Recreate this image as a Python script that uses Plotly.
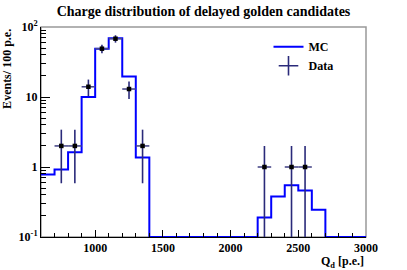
import numpy as np
import plotly.graph_objects as go

# MC histogram: bin lower edges (100 p.e. bins) and contents
mc_edges = list(range(600, 3000, 100))
mc_values = [0.78, 0.92, 1.62, 10.0, 49.0, 69.0, 19.7, 1.37,
             0, 0, 0, 0, 0, 0, 0, 0,
             0.19, 0.38, 0.55, 0.46, 0.245,
             0, 0, 0]

# Data points (bin centres) and counts
data_x = [750, 850, 950, 1050, 1150, 1250, 1350, 2250, 2450, 2550]
data_y = [2, 2, 14, 49, 68, 13, 2, 1, 1, 1]

x_ticks = [1000, 1500, 2000, 2500, 3000]
y_tickvals = [0.1, 1, 10, 100]
y_ticktext = ["10<sup>-1</sup>", "1", "10", "10<sup>2</sup>"]

FONT = "Liberation Serif"
floor = 0.1

mc_x = mc_edges + [3000]
mc_y = [max(v, floor) for v in mc_values] + [max(mc_values[-1], floor)]

err = np.sqrt(np.array(data_y, dtype=float))

fig = go.Figure()
fig.add_trace(go.Scatter(
    x=mc_x, y=mc_y, mode="lines", line=dict(shape="hv", color="#0000ff", width=2),
    name="<b>MC</b>", showlegend=True))
fig.add_trace(go.Scatter(
    x=data_x, y=data_y, mode="markers",
    marker=dict(color="black", size=4.5, symbol="square"),
    error_y=dict(type="data", array=err, arrayminus=err, color="#2a2a7a", thickness=1.6, width=0),
    error_x=dict(type="constant", value=50, color="#4a4a8a", thickness=1.6, width=0),
    showlegend=False, name="Data"))
# legend entry for data
fig.add_trace(go.Scatter(
    x=[None], y=[None], mode="markers",
    marker=dict(symbol="cross-thin", size=14, line=dict(color="#2a2a7a", width=1.6)),
    name="<b>Data</b>", showlegend=True))

axis_font = dict(family=FONT, size=12, color="black")
fig.update_layout(
    width=407, height=270,
    margin=dict(l=41, r=41, t=27, b=33),
    paper_bgcolor="white", plot_bgcolor="white",
    title=dict(text="<b>Charge distribution of delayed golden candidates</b>",
               x=0.5, xanchor="center", y=0.96, yanchor="middle",
               font=dict(family=FONT, size=14, color="black")),
    showlegend=True,
    legend=dict(x=0.70, y=0.975, xanchor="left", yanchor="top",
                font=dict(family=FONT, size=12, color="black"),
                bgcolor="rgba(0,0,0,0)", itemwidth=30, tracegroupgap=2),
    xaxis=dict(range=[600, 3000], tickvals=x_ticks, ticktext=[f"<b>{t}</b>" for t in x_ticks],
               ticks="inside", ticklen=7, tickcolor="black", showgrid=False, zeroline=False,
               showline=True, linecolor="black", linewidth=1, tickfont=axis_font,
               minor=dict(ticks="inside", ticklen=4, dtick=100, tickcolor="black", showgrid=False)),
    yaxis=dict(type="log", range=[-1, 2], tickvals=y_tickvals,
               ticktext=[f"<b>{t}</b>" for t in y_ticktext],
               ticks="inside", ticklen=9, tickcolor="black", showgrid=False, zeroline=False,
               showline=True, linecolor="black", linewidth=1, tickfont=axis_font,
               minor=dict(ticks="inside", ticklen=5, dtick="D1", tickcolor="black", showgrid=False)),
)
fig.add_shape(type="rect", xref="paper", yref="paper", x0=0, x1=1, y0=0, y1=1,
              line=dict(color="#999999", width=1.5), layer="below")
fig.add_annotation(text="<b>Events/ 100 p.e.</b>", xref="paper", yref="paper",
                   x=-0.105, y=1.0, xanchor="center", yanchor="top", textangle=-90,
                   showarrow=False, font=dict(family=FONT, size=12, color="black"))
fig.add_annotation(text="<b>Q<sub>d</sub> [p.e.]</b>", xref="paper", yref="paper",
                   x=1.0, y=-0.07, xanchor="right", yanchor="top",
                   showarrow=False, font=dict(family=FONT, size=12, color="black"))

fig.write_html("out.html", config={"displayModeBar": False},
               post_script="document.body.style.margin='0';")
